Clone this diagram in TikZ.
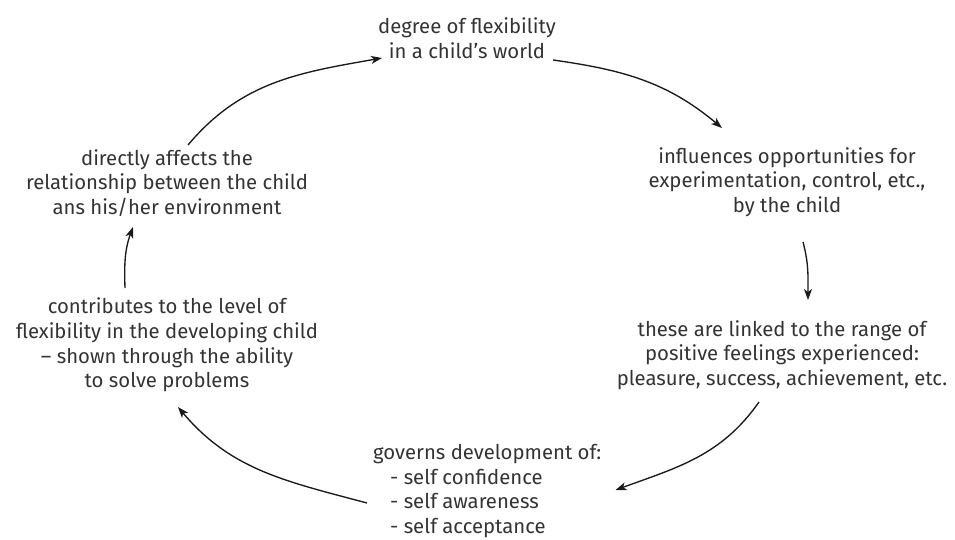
\documentclass[tikz,border=0pt]{standalone}
\usepackage{fontspec}
\setmainfont{Fira Sans}
\usepackage{tikz}
\usetikzlibrary{arrows.meta}
\definecolor{cycText}{HTML}{333333}
\definecolor{cycLine}{HTML}{1A1A1A}

\begin{document}
\begin{tikzpicture}[x=1pt, y=1pt,
  font=\fontsize{20.3}{24.6}\selectfont,
  step text/.style={text=cycText, align=center, inner sep=0pt},
  cycle arrow/.style={draw=cycLine, line width=1.35pt,
    -{Stealth[length=11pt, width=8pt, inset=3pt]}}]

\useasboundingbox (0,0) rectangle (955,539);

\node[step text] (flex) at (467,501)
  {degree of flexibility\\in a child’s world};
\node[step text] (infl) at (787,357)
  {influences opportunities for\\experimentation, control, etc.,\\by the child};
\node[step text] (linked) at (782,184)
  {these are linked to the range of\\positive feelings experienced:\\pleasure, success, achievement, etc.};
\node[step text, align=left, anchor=west] (governs) at (373,48)
  {governs development of:\\\hspace*{17pt}- self confidence\\\hspace*{17pt}- self awareness\\\hspace*{17pt}- self acceptance};
\node[step text] (contrib) at (167,194)
  {contributes to the level of\\flexibility in the developing child\\– shown through the ability\\to solve problems};
\node[step text] (affects) at (167,356)
  {directly affects the\\relationship between the child\\ans his/her environment};

\draw[cycle arrow] ([shift={(21,38)}]affects.center) to[out=50, in=190] ([shift={(-85,-20)}]flex.center);
\draw[cycle arrow] ([shift={(86,-22)}]flex.center) to[out=-8, in=140] ([shift={(-65,54)}]infl.center);
\draw[cycle arrow] ([shift={(16,-60)}]infl.center) to[out=-75, in=90] ([shift={(26,55)}]linked.center);
\draw[cycle arrow] ([shift={(-23,-47)}]linked.center) to[out=-125, in=20] ([shift={(14,1)}]governs.east);
\draw[cycle arrow] ([shift={(-6,-12)}]governs.west) to[out=165, in=-50] ([shift={(11,-62)}]contrib.center);
\draw[cycle arrow] ([shift={(-42,57)}]contrib.center) to[out=92, in=-110] ([shift={(-34,-44)}]affects.center);
\end{tikzpicture}
\end{document}
